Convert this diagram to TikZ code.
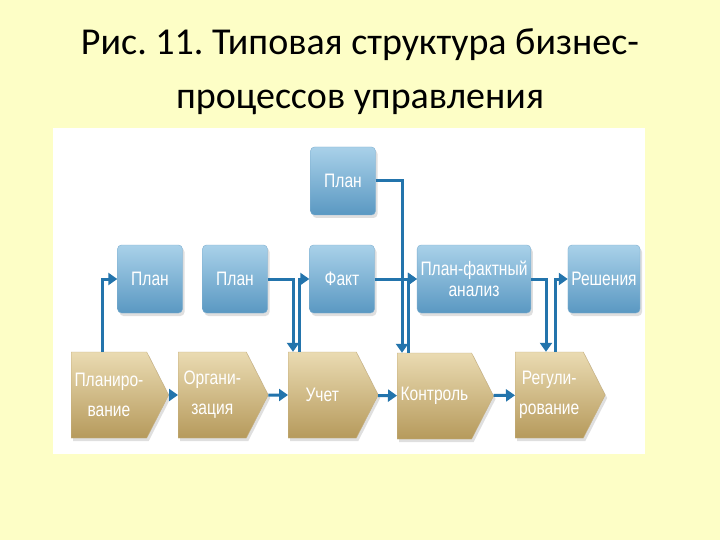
\documentclass[tikz,border=0pt]{standalone}
\usepackage{fontspec}
\setmainfont{Carlito}
\newfontfamily\narrowfont[FakeStretch=0.8]{Liberation Sans}
\usepackage{tikz}
\usetikzlibrary{shapes.symbols,arrows.meta,positioning,shadows,calc}
\definecolor{pagebg}{HTML}{FDFEC6}
\definecolor{boxtop}{HTML}{A9D1E9}
\definecolor{boxbot}{HTML}{5A98C2}
\definecolor{boxline}{HTML}{7FAFD0}
\definecolor{steptop}{HTML}{EADBB2}
\definecolor{stepbot}{HTML}{B69A5C}
\definecolor{link}{HTML}{2374AC}
\frenchspacing

\begin{document}
\begin{tikzpicture}[
    x=1pt,y=-1pt,
    docbox/.style={rounded corners=4pt,minimum width=65pt,minimum height=68pt,align=center,
      top color=boxtop,bottom color=boxbot,draw=boxline,text=white,
      font=\narrowfont\fontsize{19.5}{21}\selectfont,
      drop shadow={shadow xshift=2pt,shadow yshift=-3pt,opacity=0.25}},
    stage/.style={signal,signal to=east,signal pointer angle=126,minimum width=90pt,minimum height=86pt,
      align=center,top color=steptop,bottom color=stepbot,draw=stepbot!80,text=white,
      font=\narrowfont\fontsize{19.5}{30}\selectfont,
      drop shadow={shadow xshift=2pt,shadow yshift=-3pt,opacity=0.25}},
    arrow/.style={-{Triangle[length=9pt,width=12pt]},line width=3pt,draw=link}
  ]
    \fill[pagebg] (0,0) rectangle (720,540);
    \useasboundingbox (0,0) rectangle (720,540);
    \fill[white] (53,128) rectangle (645,454);

    \node[align=center,font=\fontsize{38}{54}\selectfont] (title) at (360,72)
      {Рис. 11. Типовая структура бизнес-\\процессов управления};

    % documents
    \node[docbox] (plantop) at (343,181) {План};
    \node[docbox] (plana) at (150,279) {План};
    \node[docbox] (planb) at (235,279) {План};
    \node[docbox] (fakt) at (342,279) {Факт};
    \node[docbox,minimum width=108pt] (analiz) at (474,279) {План-фактный\\анализ};
    \node[docbox,minimum width=68pt] (resh) at (604,279) {Решения};

    % process stages
    \node[stage,anchor=west] (plan) at (71,395) {Планиро-\\вание};
    \node[stage,anchor=west] (org) at (178,395) {Органи-\\зация};
    \node[stage,anchor=west] (uchet) at (288,395) {Учет};
    \node[stage,anchor=west] (kontrol) at (397,396) {Контроль};
    \node[stage,anchor=west] (reg) at (515,395) {Регули-\\рование};

    \draw[arrow] (plan) -- (org);
    \draw[arrow] (org) -- (uchet);
    \draw[arrow] (uchet) -- (kontrol);
    \draw[arrow] (kontrol) -- (reg);

    \draw[arrow] ([xshift=31pt]plan.west |- plan.north) |- (plana.west);
    \draw[arrow] (planb.east) -| ([xshift=5pt]uchet.west |- uchet.north);
    \draw[arrow] ([xshift=11pt]uchet.west |- uchet.north) |- (fakt.west);
    \draw[arrow] (plantop.east) -| ([xshift=5pt]kontrol.west |- kontrol.north);
    \draw[arrow] (fakt.east) -- (analiz.west);
    \draw[arrow] ([xshift=11pt]kontrol.west |- kontrol.north) |- (analiz.west);
    \draw[arrow] (analiz.east) -| ([xshift=31pt]reg.west |- reg.north);
    \draw[arrow] ([xshift=40pt]reg.west |- reg.north) |- (resh.west);
  \end{tikzpicture}
\end{document}
